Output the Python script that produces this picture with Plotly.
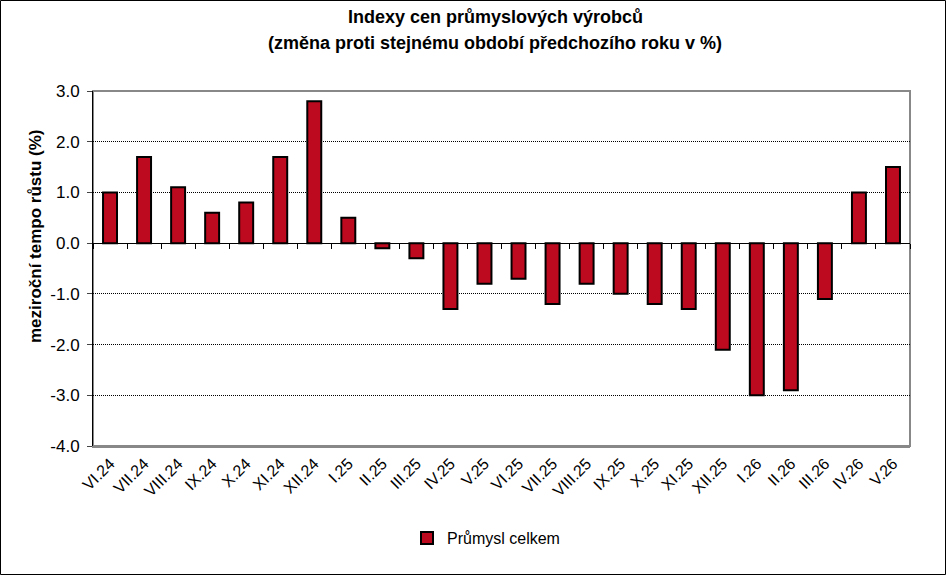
import plotly.graph_objects as go

# data
months = ["VI.24", "VII.24", "VIII.24", "IX.24", "X.24", "XI.24", "XII.24",
          "I.25", "II.25", "III.25", "IV.25", "V.25", "VI.25", "VII.25",
          "VIII.25", "IX.25", "X.25", "XI.25", "XII.25", "I.26", "II.26",
          "III.26", "IV.26", "V.26"]
prumysl = [1.0, 1.7, 1.1, 0.6, 0.8, 1.7, 2.8,
           0.5, -0.1, -0.3, -1.3, -0.8, -0.7, -1.2,
           -0.8, -1.0, -1.2, -1.3, -2.1, -3.0, -2.9,
           -1.1, 1.0, 1.5]

y_min, y_max = -4.0, 3.0
y_ticks = [3.0, 2.0, 1.0, 0.0, -1.0, -2.0, -3.0, -4.0]
y_ticktext = ["3.0", "2.0", "1.0", "0.0", "-1.0", "-2.0", "-3.0", "-4.0"]

font_main = "Liberation Sans, Arial"
bar_red = "#BE0A1E"

# plot area in pixels (946x575 page)
L, R, T, B = 93, 36, 91, 129
pw, ph = 946 - L - R, 575 - T - B

fig = go.Figure()

fig.add_trace(go.Bar(
    x=months, y=prumysl,
    name="Průmysl celkem",
    marker=dict(color=bar_red, line=dict(color="black", width=2)),
))

# dummy trace so the zero-line axis with ticks gets drawn
fig.add_trace(go.Scatter(x=months, y=[0] * len(months), xaxis="x2",
                         mode="markers", marker=dict(opacity=0),
                         showlegend=False, hoverinfo="skip"))

zero_pos = (0 - y_min) / (y_max - y_min)
x_range = [-0.5, len(months) - 0.5]

fig.update_layout(
    width=946, height=575,
    paper_bgcolor="white", plot_bgcolor="rgba(0,0,0,0)",
    margin=dict(l=L, r=R, t=T, b=B, autoexpand=False),
    font=dict(family=font_main, size=14, color="black"),
    bargap=0.59,
    showlegend=True,
    legend=dict(orientation="h", x=(486 - L) / pw, xanchor="center",
                y=-(538 - (T + ph)) / ph, yanchor="middle",
                font=dict(family=font_main, size=16)),
    xaxis=dict(
        type="category", range=x_range, showline=True, linecolor="#888888",
        linewidth=2, ticks="", tickangle=-45, showgrid=False, automargin=False,
        tickfont=dict(family=font_main, size=16),
    ),
    xaxis2=dict(
        type="category", overlaying="x", range=x_range, anchor="free",
        position=zero_pos, side="bottom", showline=True, linecolor="black",
        linewidth=1, ticks="outside", ticklen=5, tickcolor="black",
        tickson="boundaries", showticklabels=False, showgrid=False,
        automargin=False,
    ),
    yaxis=dict(
        range=[y_min, y_max], tickvals=y_ticks, ticktext=y_ticktext,
        showline=True, linecolor="black", linewidth=1,
        ticks="outside", ticklen=5, showgrid=True,
        gridcolor="black", griddash="1px,1px", gridwidth=1,
        zeroline=False, automargin=False, ticklabelstandoff=4,
        tickfont=dict(family=font_main, size=17),
    ),
    annotations=[
        dict(text="<b>Indexy cen průmyslových výrobců</b>", xref="paper", yref="paper",
             x=(495 - L) / pw, y=1 + (T - 17) / ph, xanchor="center", yanchor="middle",
             showarrow=False, font=dict(family=font_main, size=18)),
        dict(text="<b>(změna proti stejnému období předchozího roku v %)</b>",
             xref="paper", yref="paper",
             x=(495 - L) / pw, y=1 + (T - 43) / ph, xanchor="center", yanchor="middle",
             showarrow=False, font=dict(family=font_main, size=18)),
        dict(text="<b>meziroční tempo růstu (%)</b>", xref="paper", yref="paper",
             x=-(L - 35) / pw, y=1 - (237 - T) / ph, xanchor="center", yanchor="middle",
             textangle=-90, showarrow=False, font=dict(family=font_main, size=17)),
    ],
    shapes=[
        dict(type="rect", xref="paper", yref="paper", x0=0, x1=1, y0=0, y1=1,
             layer="below", line=dict(color="#888888", width=2)),
        dict(type="rect", xref="paper", yref="paper",
             x0=-(L - 0.5) / pw, x1=1 + (R - 0.5) / pw,
             y0=-(B - 0.5) / ph, y1=1 + (T - 0.5) / ph,
             line=dict(color="black", width=1)),
    ],
)

# page has a default body margin; remove it so the figure fills the window
fig.write_html("out.html", config={"displayModeBar": False},
               post_script="document.body.style.margin='0';")
